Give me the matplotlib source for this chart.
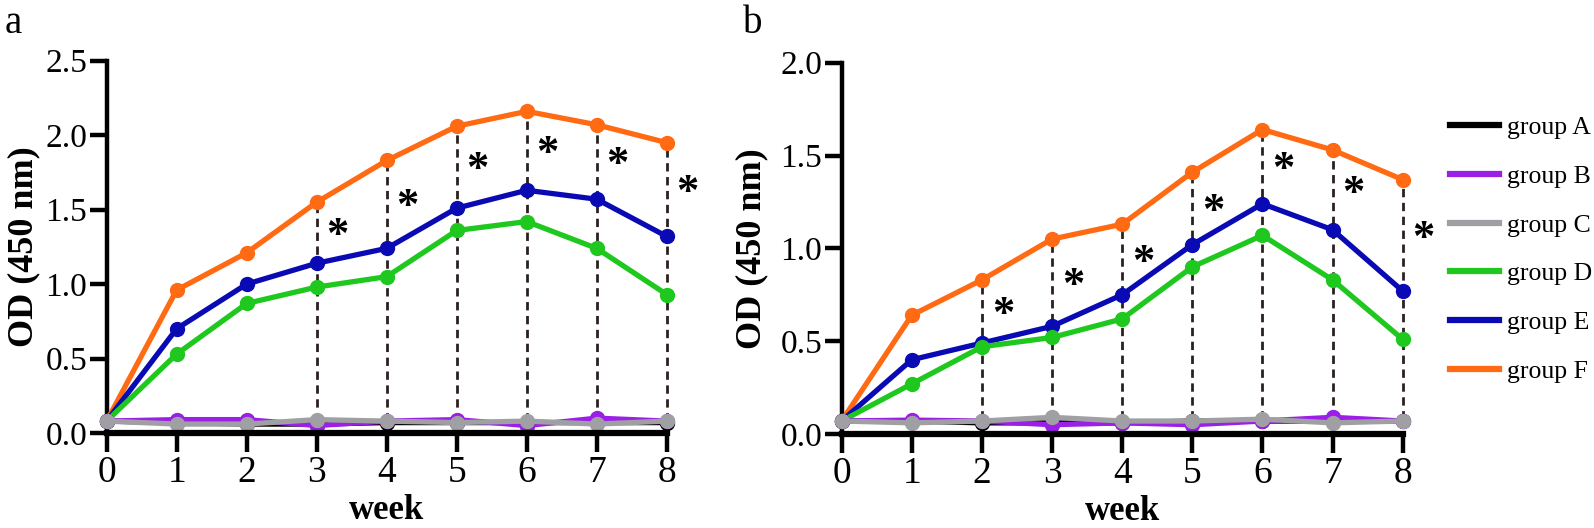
import matplotlib
matplotlib.use("Agg")
import matplotlib.pyplot as plt
from matplotlib.lines import Line2D

plt.rcParams['font.family'] = ['Liberation Serif', 'DejaVu Serif']

weeks = [0, 1, 2, 3, 4, 5, 6, 7, 8]
groups = ['group A', 'group B', 'group C', 'group D', 'group E', 'group F']
colors = ['#000000', '#9b1fe6', '#a0a0a4', '#1ec81e', '#0a0ab4', '#ff6a13']

# panel a
a_A = [0.08, 0.07, 0.06, 0.06, 0.07, 0.07, 0.07, 0.07, 0.07]
a_B = [0.08, 0.09, 0.09, 0.05, 0.08, 0.09, 0.05, 0.10, 0.08]
a_C = [0.08, 0.06, 0.06, 0.09, 0.08, 0.07, 0.08, 0.06, 0.08]
a_D = [0.08, 0.53, 0.87, 0.98, 1.05, 1.36, 1.42, 1.24, 0.93]
a_E = [0.08, 0.70, 1.00, 1.14, 1.24, 1.51, 1.63, 1.57, 1.32]
a_F = [0.08, 0.96, 1.21, 1.55, 1.83, 2.06, 2.16, 2.07, 1.95]
a_sig = [3, 4, 5, 6, 7, 8]

# panel b
b_A = [0.07, 0.07, 0.06, 0.06, 0.06, 0.07, 0.07, 0.07, 0.07]
b_B = [0.07, 0.075, 0.07, 0.05, 0.06, 0.05, 0.07, 0.09, 0.07]
b_C = [0.07, 0.06, 0.07, 0.09, 0.07, 0.07, 0.08, 0.06, 0.07]
b_D = [0.07, 0.27, 0.47, 0.52, 0.62, 0.90, 1.07, 0.83, 0.51]
b_E = [0.07, 0.40, 0.49, 0.58, 0.75, 1.02, 1.24, 1.10, 0.77]
b_F = [0.07, 0.64, 0.83, 1.05, 1.13, 1.41, 1.64, 1.53, 1.37]
b_sig = [2, 3, 4, 5, 6, 7, 8]

fig = plt.figure(figsize=(15.94, 5.28), dpi=100)
ax_a = fig.add_axes([0.0669, 0.1799, 0.3514, 0.7051])
ax_b = fig.add_axes([0.5280, 0.1780, 0.3520, 0.7033])


def draw_panel(ax, series, sig, ymax, ylab_x):
    F = series[5]
    E = series[4]
    # dashed guide lines + stars
    for w in sig:
        ax.plot([w, w], [0.08, F[w]], ls=(0, (3, 2)), color='#2b2020', lw=2.0, zorder=1, clip_on=False)
        ax.text(w + 0.3, (F[w] + E[w]) / 2 - 0.02, '*', fontsize=32, fontweight='bold',
                ha='center', va='center')
    order = [5, 4, 3, 0, 1, 2]
    for i in order:
        ax.plot(weeks, series[i], color=colors[i], lw=3.8, marker='o', ms=10,
                zorder=3 + (i < 3), clip_on=False)
    ax.set_xlim(0, 8)
    ax.set_ylim(0, ymax)
    ax.set_xticks(weeks)
    ax.set_yticks([i * 0.5 for i in range(int(ymax / 0.5) + 1)])
    ax.set_yticklabels(['%.1f' % v for v in ax.get_yticks()])
    for s in ['top', 'right']:
        ax.spines[s].set_visible(False)
    ax.spines['left'].set_linewidth(3.2)
    ax.spines['bottom'].set_linewidth(4.5)
    ax.spines['bottom'].set_zorder(6)
    ax.tick_params(axis='x', direction='out', length=14, width=3.2, labelsize=27, pad=2)
    ax.tick_params(axis='y', direction='out', length=12, width=3.2, labelsize=24, pad=2)
    ax.set_xlabel('week', fontsize=25, fontweight='bold', labelpad=3)
    ax.set_ylabel('OD (450 nm)', fontsize=26, fontweight='bold')
    ax.yaxis.set_label_coords(ylab_x, 0.5)


draw_panel(ax_a, [a_A, a_B, a_C, a_D, a_E, a_F], a_sig, 2.5, -0.118)
draw_panel(ax_b, [b_A, b_B, b_C, b_D, b_E, b_F], b_sig, 2.0, -0.13)

fig.text(0.003, 0.955, 'a', fontsize=28, va='center', ha='left')
fig.text(0.466, 0.955, 'b', fontsize=28, va='center', ha='left')

handles = [Line2D([0], [0], color=c, lw=4.5) for c in colors]
fig.legend(handles, groups, loc='upper left', bbox_to_anchor=(0.9097, 0.78),
           frameon=False, fontsize=18.5, handlelength=1.9, handletextpad=0.3,
           labelspacing=1.0, borderpad=0, borderaxespad=0)

fig.savefig('out.png', dpi=100)
